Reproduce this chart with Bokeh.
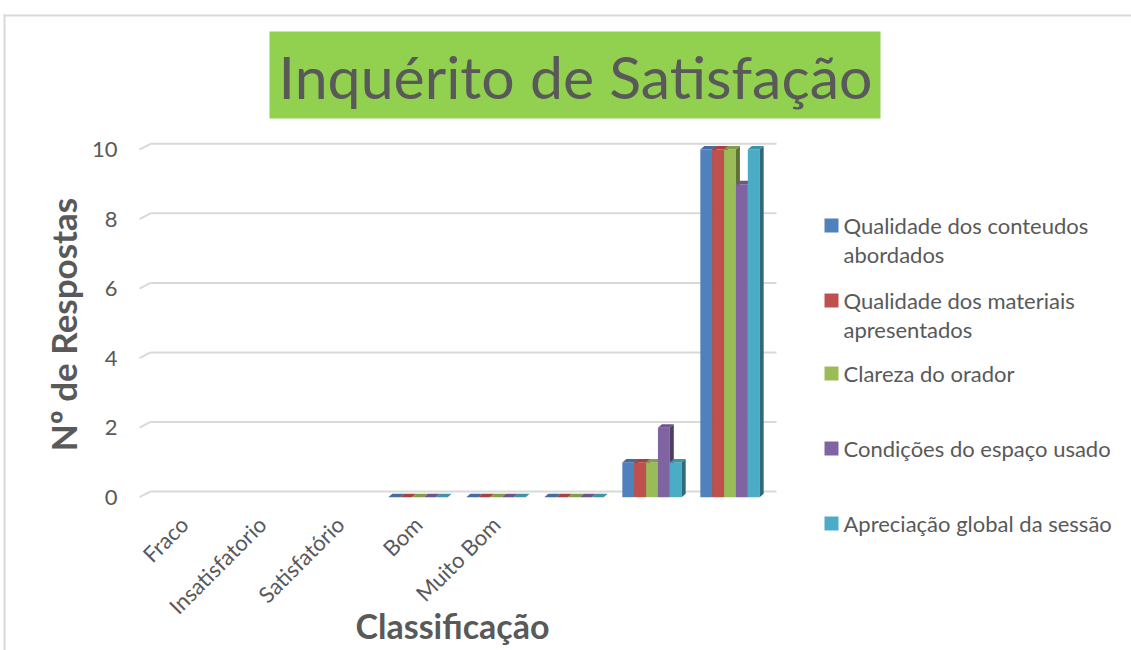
import math
from bokeh.plotting import figure
from bokeh.models import FixedTicker, Range1d
from bokeh.core.properties import value
from bokeh.embed import file_html
from bokeh.resources import INLINE

# ---------------- data ----------------
categories = ["Fraco", "Insatisfatorio", "Satisfatório", "Bom", "Muito Bom", "", "", ""]
series_names = [
    "Qualidade dos conteudos abordados",
    "Qualidade dos materiais apresentados",
    "Clareza do orador",
    "Condições do espaço usado",
    "Apreciação global da sessão",
]
legend_lines = [
    ["Qualidade dos conteudos", "abordados"],
    ["Qualidade dos materiais", "apresentados"],
    ["Clareza do orador"],
    ["Condições do espaço usado"],
    ["Apreciação global da sessão"],
]
qualidade_conteudos = [None, None, None, 0, 0, 0, 1, 10]
qualidade_materiais = [None, None, None, 0, 0, 0, 1, 10]
clareza_orador = [None, None, None, 0, 0, 0, 1, 10]
condicoes_espaco = [None, None, None, 0, 0, 0, 2, 9]
apreciacao_global = [None, None, None, 0, 0, 0, 1, 10]
y_ticks = [0, 2, 4, 6, 8, 10]
title_text = "Inquérito de Satisfação"
x_title = "Classificação"
y_title = "Nº de Respostas"

series_values = [qualidade_conteudos, qualidade_materiais, clareza_orador,
                 condicoes_espaco, apreciacao_global]
front_colors = ["#4F81BD", "#C0504D", "#9BBB59", "#8064A2", "#4BACC6"]


def shade(hex_color, f):
    h = hex_color.lstrip("#")
    r, g, b = (int(h[i:i + 2], 16) for i in (0, 2, 4))
    return "#%02X%02X%02X" % (int(r * f), int(g * f), int(b * f))


top_colors = [shade(c, 0.85) for c in front_colors]
side_colors = [shade(c, 0.62) for c in front_colors]

# ---------------- geometry (canvas px) ----------------
W, H = 1131, 650
CAT1_X, CAT_STEP = 183.5, 78.0          # canvas x of category 1, px per category
ZERO_Y, UNIT_PX = 496.7, 34.77           # canvas y of value 0 (front), px per unit
BACK_SHIFT = 5.7                          # 3D depth offset of back wall (px)
PLOT_L, PLOT_R, PLOT_T, PLOT_B = 139, 776, 138, 502


def sx(px):
    return 1 + (px - CAT1_X) / CAT_STEP


def sy(py):
    return (ZERO_Y - py) / UNIT_PX


TEXT = "#595959"
FONT = "Lato"

p = figure(
    width=W, height=H, min_border=0,
    x_range=Range1d(sx(0), sx(W)), y_range=Range1d(sy(H), sy(0)),
    output_backend="svg", toolbar_location=None,
)
p.outline_line_color = None
p.background_fill_color = "white"
p.border_fill_color = "white"
p.xgrid.visible = False
p.ygrid.visible = False

# ---------------- chart area border (top and left edges) ----------------
p.quad(left=[sx(3), sx(3)], right=[sx(W), sx(5)], top=[sy(14), sy(14)],
       bottom=[sy(16), sy(H)], fill_color="#D9D9D9", line_color=None)

# ---------------- back-wall gridlines ----------------
shift = BACK_SHIFT / UNIT_PX
p.extra_y_ranges = {"back": Range1d(sy(H) - shift, sy(0) - shift)}
p.segment(x0=[sx(150)] * len(y_ticks), y0=y_ticks,
          x1=[sx(PLOT_R)] * len(y_ticks), y1=y_ticks, y_range_name="back",
          line_color="#D9D9D9", line_width=2)
# slanted floor edges of the gridlines
p.segment(x0=[sx(PLOT_L)] * len(y_ticks), y0=y_ticks,
          x1=[sx(150)] * len(y_ticks), y1=[t + shift for t in y_ticks],
          line_color="#D9D9D9", line_width=2)

# ---------------- bars (3D look) ----------------
bw = 11.87 / CAT_STEP
dx = 4.0 / CAT_STEP
dy = 3.4 / UNIT_PX
n = len(series_values)
for k, vals in enumerate(series_values):
    xs, tops = [], []
    for i, v in enumerate(vals):
        if v is None:
            continue
        xs.append(i + 1 + (k - (n - 1) / 2) * bw)
        tops.append(v)
    p.vbar(x=xs, width=bw, top=tops, bottom=0, fill_color=front_colors[k],
           line_color=None)
    top_x = [[x - bw / 2, x - bw / 2 + dx, x + bw / 2 + dx, x + bw / 2] for x in xs]
    top_y = [[v, v + dy, v + dy, v] for v in tops]
    p.patches(top_x, top_y, fill_color=top_colors[k], line_color=None)
    side_x = [[x + bw / 2, x + bw / 2 + dx, x + bw / 2 + dx, x + bw / 2] for x in xs]
    side_y = [[0, dy, v + dy, v] for v in tops]
    p.patches(side_x, side_y, fill_color=side_colors[k], line_color=None)

# ---------------- axes (fixed inside the canvas) ----------------
ax = p.xaxis[0]
ax.fixed_location = sy(PLOT_B)
ax.bounds = (sx(PLOT_L - 11), sx(PLOT_R))
ax.ticker = FixedTicker(ticks=list(range(1, len(categories) + 1)))
ax.major_label_overrides = {i + 1: c for i, c in enumerate(categories)}
ax.major_label_orientation = math.pi / 4
ax.axis_line_color = None
ax.major_tick_line_color = None
ax.minor_tick_line_color = None
ax.major_label_text_font = FONT
ax.major_label_text_font_size = "22px"
ax.major_label_text_color = TEXT
ax.major_label_standoff = 12
ax.axis_label = x_title
ax.axis_label_text_font = FONT
ax.axis_label_text_font_style = "bold"
ax.axis_label_text_font_size = "34px"
ax.axis_label_text_color = TEXT
ax.axis_label_standoff = -27

ay = p.yaxis[0]
ay.fixed_location = sx(PLOT_L)
ay.bounds = (sy(PLOT_B), sy(PLOT_T + 8))
ay.ticker = FixedTicker(ticks=y_ticks)
ay.axis_line_color = None
ay.major_tick_line_color = None
ay.minor_tick_line_color = None
ay.major_label_text_font = FONT
ay.major_label_text_font_size = "22px"
ay.major_label_text_color = TEXT
ay.major_label_standoff = 16
ay.axis_label = y_title
ay.axis_label_text_font = FONT
ay.axis_label_text_font_style = "bold"
ay.axis_label_text_font_size = "35px"
ay.axis_label_text_color = TEXT
ay.axis_label_standoff = 5

# ---------------- title ----------------
p.quad(left=[sx(269)], right=[sx(880)], top=[sy(31)], bottom=[sy(118)],
       fill_color="#92D050", line_color=None)
p.text(x=[sx(575)], y=[sy(76)], text=[title_text], text_align="center",
       text_baseline="middle", text_font=value(FONT), text_font_size=value("59px"),
       text_color=TEXT)

# ---------------- legend ----------------
legend_row_y = [225, 300, 373, 448, 523]
line_gap = 29
sq_l, sq_r, sq_t, sq_b, tx, ty, tt = [], [], [], [], [], [], []
for k, lines in enumerate(legend_lines):
    cy = legend_row_y[k]
    sq_l.append(sx(824)); sq_r.append(sx(838))
    sq_t.append(sy(cy - 7)); sq_b.append(sy(cy + 7))
    for j, ln in enumerate(lines):
        tx.append(sx(843)); ty.append(sy(cy + j * line_gap)); tt.append(ln)
p.quad(left=sq_l, right=sq_r, top=sq_t, bottom=sq_b, fill_color=front_colors,
       line_color=None)
p.text(x=tx, y=ty, text=tt, text_align="left", text_baseline="middle",
       text_font=value(FONT), text_font_size=value("22px"), text_color=TEXT)

open("out.html", "w").write(file_html(p, INLINE))
